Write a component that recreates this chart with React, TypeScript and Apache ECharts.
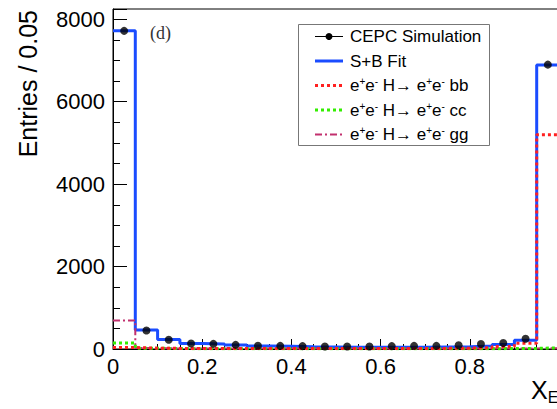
import React, { useEffect, useRef } from "react";
import * as echarts from "echarts";

// Bin lower edges (bin width 0.05)
const binEdges = [0, 0.05, 0.1, 0.15, 0.2, 0.25, 0.3, 0.35, 0.4, 0.45, 0.5, 0.55, 0.6, 0.65, 0.7, 0.75, 0.8, 0.85, 0.9, 0.95];
const xUpper = 1.0;
// CEPC simulation (data points at bin centres)
const simValues = [7720, 450, 225, 135, 125, 100, 80, 75, 70, 60, 60, 60, 70, 75, 75, 90, 120, 145, 250, 6900];
// S+B fit
const fitValues = [7720, 460, 230, 135, 120, 95, 75, 65, 55, 50, 45, 45, 45, 45, 50, 55, 70, 110, 210, 6890];
// components
const bbValues = [35, 20, 15, 12, 12, 12, 12, 12, 12, 12, 12, 12, 12, 15, 15, 20, 30, 60, 140, 5200];
const ccValues = [145, 20, 10, 8, 8, 8, 8, 8, 8, 8, 8, 8, 8, 8, 8, 8, 8, 10, 15, 30];
const ggValues = [690, 25, 12, 10, 10, 10, 10, 10, 10, 10, 10, 10, 10, 10, 10, 10, 10, 10, 15, 20];

const xTickLabels: Record<string, string> = { "0": "0", "0.2": "0.2", "0.4": "0.4", "0.6": "0.6", "0.8": "0.8" };
const yTickLabels: Record<string, string> = { "0": "0", "2000": "2000", "4000": "4000", "6000": "6000", "8000": "8000" };
const legendNames = ["CEPC Simulation", "S+B Fit", "bb", "cc", "gg"];

const FONT = "'Liberation Sans', Arial, Helvetica, sans-serif";

function stepData(vals: number[]) {
  const d = binEdges.map((e, i) => [e, vals[i]]);
  d.push([xUpper, vals[vals.length - 1]]);
  return d;
}

export default function App() {
  const ref = useRef<HTMLDivElement>(null);
  useEffect(() => {
    if (!ref.current) return;
    const chart = echarts.init(ref.current, null, { renderer: "svg" });

    const lx0 = 315, lx1 = 343, ltx = 350;
    const rows = [36.5, 61, 85.5, 110, 134.5];
    const sup = { fontSize: 10, fontFamily: FONT, verticalAlign: "top", lineHeight: 18 };
    const norm = { fontSize: 17, fontFamily: FONT, lineHeight: 18 };
    const hText = (proc: string) => `{n|e}{s|+}{n|e}{s|-}{n| H→ e}{s|+}{n|e}{s|-}{n| ${proc}}`;

    const legendItems: any[] = [
      {
        type: "rect",
        shape: { x: 298.5, y: 24.5, width: 191, height: 121 },
        style: { fill: "#fff", stroke: "#777", lineWidth: 1 },
        z: 10,
      },
      { type: "line", shape: { x1: lx0, y1: rows[0], x2: lx1, y2: rows[0] }, style: { stroke: "#000", lineWidth: 1 }, z: 11 },
      { type: "circle", shape: { cx: (lx0 + lx1) / 2, cy: rows[0], r: 3.5 }, style: { fill: "#000" }, z: 11 },
      { type: "line", shape: { x1: lx0, y1: rows[1], x2: lx1, y2: rows[1] }, style: { stroke: "#1a4cff", lineWidth: 3 }, z: 11 },
      { type: "line", shape: { x1: lx0, y1: rows[2], x2: lx1, y2: rows[2] }, style: { stroke: "#ff2020", lineWidth: 3, lineDash: [3, 3] }, z: 11 },
      { type: "line", shape: { x1: lx0, y1: rows[3], x2: lx1, y2: rows[3] }, style: { stroke: "#33ee00", lineWidth: 3, lineDash: [3, 3] }, z: 11 },
      { type: "line", shape: { x1: lx0, y1: rows[4], x2: lx1, y2: rows[4] }, style: { stroke: "#c2306e", lineWidth: 2, lineDash: [7, 3, 2, 3] }, z: 11 },
      { type: "text", x: ltx, y: rows[0], style: { text: legendNames[0], font: `17px ${FONT}`, fill: "#000", verticalAlign: "middle" }, z: 11 },
      { type: "text", x: ltx, y: rows[1], style: { text: legendNames[1], font: `17px ${FONT}`, fill: "#000", verticalAlign: "middle" }, z: 11 },
      ...[2, 3, 4].map((k) => ({
        type: "text",
        x: ltx,
        y: rows[k],
        style: { text: hText(legendNames[k]), fill: "#000", verticalAlign: "middle", rich: { n: norm, s: sup } },
        z: 11,
      })),
    ];

    const option: any = {
      animation: false,
      grid: { left: 113, top: 9, right: 81, bottom: 60, show: true, borderColor: "#000", borderWidth: 1, backgroundColor: "transparent" },
      xAxis: {
        type: "value",
        min: 0,
        max: 1,
        interval: 0.2,
        axisLine: { show: true, lineStyle: { color: "#000", width: 1 } },
        axisTick: { show: true, inside: true, length: 10, lineStyle: { color: "#000" } },
        minorTick: { show: true, splitNumber: 4, length: 5, lineStyle: { color: "#000" } },
        splitLine: { show: false },
        axisLabel: {
          color: "#000",
          fontSize: 22,
          fontFamily: FONT,
          margin: 6,
          formatter: (v: number) => xTickLabels[String(Math.round(v * 10) / 10)] ?? "",
        },
      },
      yAxis: {
        type: "value",
        min: 0,
        max: 8250,
        interval: 2000,
        axisLine: { show: true, lineStyle: { color: "#000", width: 1 } },
        axisTick: { show: true, inside: true, length: 14, lineStyle: { color: "#000" } },
        minorTick: { show: true, splitNumber: 4, length: 7, lineStyle: { color: "#000" } },
        splitLine: { show: false },
        axisLabel: {
          color: "#000",
          fontSize: 22,
          fontFamily: FONT,
          margin: 8,
          formatter: (v: number) => yTickLabels[String(Math.round(v))] ?? "",
        },
      },
      graphic: [
        {
          type: "text",
          x: 28,
          y: 10,
          rotation: Math.PI / 2,
          style: { text: "Entries / 0.05", font: `25px ${FONT}`, fill: "#000", align: "right", verticalAlign: "middle" },
        },
        {
          type: "text",
          x: 531,
          y: 390,
          style: {
            text: "{x|X}{e|E}",
            verticalAlign: "middle",
            rich: { x: { fontSize: 25, fontFamily: FONT, lineHeight: 30 }, e: { fontSize: 16, fontFamily: FONT, verticalAlign: "bottom", lineHeight: 30 } },
          },
        },
        {
          type: "text",
          x: 150,
          y: 33,
          style: { text: "(d)", font: "18px 'Liberation Serif', 'Times New Roman', serif", fill: "#333", verticalAlign: "middle" },
        },
        ...legendItems,
      ],
      series: [
        {
          name: "S+B Fit",
          type: "line",
          step: "end",
          data: stepData(fitValues),
          showSymbol: false,
          lineStyle: { color: "#1a4cff", width: 3 },
          z: 3,
        },
        {
          name: "gg",
          type: "line",
          step: "end",
          data: stepData(ggValues),
          showSymbol: false,
          lineStyle: { color: "#c2306e", width: 2, type: [7, 3, 2, 3] },
          z: 4,
        },
        {
          name: "cc",
          type: "line",
          step: "end",
          data: stepData(ccValues),
          showSymbol: false,
          lineStyle: { color: "#33ee00", width: 3, type: [3, 3] },
          z: 4,
        },
        {
          name: "bb",
          type: "line",
          step: "end",
          data: stepData(bbValues),
          showSymbol: false,
          lineStyle: { color: "#ff2020", width: 3, type: [3, 3] },
          z: 5,
        },
        {
          name: "CEPC Simulation",
          type: "scatter",
          data: binEdges.map((e, i) => [e + 0.025, simValues[i]]),
          symbol: "circle",
          symbolSize: 8,
          itemStyle: { color: "#000" },
          z: 6,
        },
      ],
    };
    chart.setOption(option);
    return () => chart.dispose();
  }, []);

  return (
    <div style={{ position: "fixed", left: 0, top: 0, width: 557, height: 409, overflow: "hidden", background: "#fff" }}>
      <div ref={ref} style={{ width: 640, height: 409 }} />
    </div>
  );
}
